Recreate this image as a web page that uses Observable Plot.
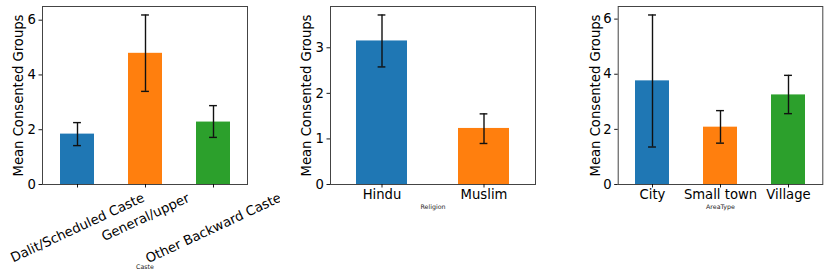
<!DOCTYPE html>
<html>
<head>
<meta charset="utf-8">
<script src="https://cdn.jsdelivr.net/npm/d3@7"></script>
<script src="https://cdn.jsdelivr.net/npm/@observablehq/plot@0.6"></script>
<style>
  html, body { margin: 0; padding: 0; background: white; }
  #wrap { position: relative; width: 830px; height: 277px; overflow: hidden; }
  #wrap > svg { position: absolute; top: 0; overflow: visible; }
</style>
</head>
<body>
<div id="wrap"></div>
<script>
// ---- data ----
const casteCats = ["Dalit/Scheduled Caste", "General/upper", "Other Backward Caste"];
const casteMean = [1.84, 4.79, 2.28];
const casteLo   = [1.42, 3.40, 1.72];
const casteHi   = [2.26, 6.19, 2.88];

const religionCats = ["Hindu", "Muslim"];
const religionMean = [3.15, 1.23];
const religionLo   = [2.58, 0.90];
const religionHi   = [3.72, 1.55];

const areaCats = ["City", "Small town", "Village"];
const areaMean = [3.76, 2.08, 3.25];
const areaLo   = [1.36, 1.50, 2.57];
const areaHi   = [6.15, 2.68, 3.96];

const casteTicks = [0, 2, 4, 6];
const religionTicks = [0, 1, 2, 3];
const areaTicks = [0, 2, 4, 6];

const palette = ["#1f77b4", "#ff7f0e", "#2ca02c"];
const yLabel = "Mean Consented Groups";

const FONT = "DejaVu Sans";
const FS = 13.2;
const wrap = document.getElementById("wrap");

function panel({cats, mean, lo, hi, ticks, xTitle, left, width, mL, mR, rotate, titleDy, yLabelOffset}) {
  const rows = cats.map((c, i) => ({c, m: mean[i], lo: lo[i], hi: hi[i]}));
  const frameW = width - mL - mR;
  const bw = frameW / cats.length * 0.5;
  const capInset = (bw - 8) / 2;
  const yMax = d3.max(hi) * 1.05;
  const marks = [
    Plot.barY(rows, {x: "c", y: "m", fill: "c"}),
    Plot.ruleX(rows, {x: "c", y1: "lo", y2: "hi", stroke: "#111", strokeWidth: 1.4}),
    Plot.tickY(rows, {x: "c", y: "lo", stroke: "#111", strokeWidth: 1.4, insetLeft: capInset, insetRight: capInset}),
    Plot.tickY(rows, {x: "c", y: "hi", stroke: "#111", strokeWidth: 1.4, insetLeft: capInset, insetRight: capInset}),
    Plot.frame({stroke: "#444", strokeWidth: 1}),
    Plot.axisY({ticks, tickFormat: d => String(d), tickSize: 3.5, tickPadding: 3, fontSize: FS, strokeWidth: 0.9,
      label: yLabel, labelAnchor: "center", labelArrow: "none", labelOffset: yLabelOffset}),
    Plot.axisX({tickSize: 3.5, tickPadding: 2, fontSize: FS, strokeWidth: 0.9, label: null,
      tickFormat: rotate ? () => "" : d => d}),
    Plot.text([xTitle], {frameAnchor: "bottom", dy: titleDy, fontSize: 6.3, fill: "#222", text: d => d, lineAnchor: "middle"})
  ];
  if (rotate) {
    marks.push(Plot.text(rows, {x: "c", frameAnchor: "bottom", text: "c", rotate: -25, textAnchor: "middle",
      lineAnchor: "middle", fontSize: FS, fill: "black", className: "rotlab"}));
  }
  const svg = Plot.plot({
    width, height: 277,
    marginLeft: mL, marginRight: mR, marginTop: 6, marginBottom: 93,
    style: {fontFamily: FONT, fontSize: FS + "px", color: "black", background: "white", overflow: "visible"},
    x: {domain: cats, paddingInner: 0.5, paddingOuter: 0.25, label: null},
    y: {domain: [0, yMax], label: null},
    color: {domain: cats, range: palette.slice(0, cats.length)},
    marks
  });
  svg.style.left = left + "px";
  wrap.appendChild(svg);
  if (rotate) {
    const svgRect = svg.getBoundingClientRect();
    svg.querySelectorAll(".rotlab text").forEach(t => {
      const r = t.getBoundingClientRect();
      const top = r.top - svgRect.top;
      const dy = 190 - top;
      t.setAttribute("transform", `translate(0,${dy}) ` + (t.getAttribute("transform") || ""));
    });
  }
  return svg;
}

panel({cats: casteCats, mean: casteMean, lo: casteLo, hi: casteHi, ticks: casteTicks, xTitle: "Caste",
  left: 0, width: 280, mL: 42, mR: 33, rotate: true, titleDy: 82.7, yLabelOffset: 28.5});
panel({cats: religionCats, mean: religionMean, lo: religionLo, hi: religionHi, ticks: religionTicks, xTitle: "Religion",
  left: 280, width: 280, mL: 50, mR: 25, rotate: false, titleDy: 22.7, yLabelOffset: 28.5});
panel({cats: areaCats, mean: areaMean, lo: areaLo, hi: areaHi, ticks: areaTicks, xTitle: "AreaType",
  left: 560, width: 270, mL: 57.7, mR: 7.7, rotate: false, titleDy: 22.7, yLabelOffset: 27.5});
</script>
</body>
</html>
